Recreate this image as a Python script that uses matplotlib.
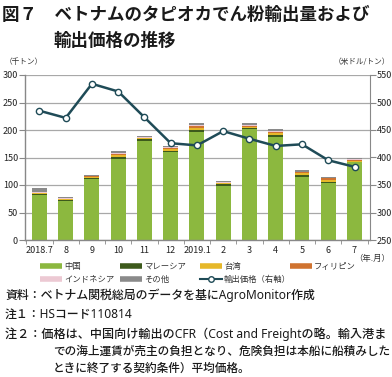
import matplotlib
matplotlib.use("Agg")
import matplotlib.pyplot as plt
from matplotlib.lines import Line2D
import numpy as np

plt.rcParams['font.family'] = ['Noto Sans CJK JP', 'DejaVu Sans']

months = ["2018.7", "8", "9", "10", "11", "12", "2019.1", "2", "3", "4", "5", "6", "7"]
china = [82, 71, 111, 148, 180, 160, 196, 99, 201, 188, 115, 104, 141]
malaysia = [2, 1, 1, 3, 3, 2, 4, 2, 2, 3, 3, 2, 1]
taiwan = [1.5, 2, 3, 3, 2, 3, 4, 2, 3, 4, 4, 4, 2]
philippines = [0.5, 0.5, 1, 3, 1, 2, 4, 1.5, 2, 2, 1, 2, 1]
indonesia = [1, 1.5, 0.5, 1, 2, 2, 2, 1, 2, 2, 1, 1, 2]
other = [7, 3, 1.5, 3, 2, 2, 2, 1.5, 2, 2, 3, 1, 2]
price = [485, 472, 534, 520, 473, 426, 422, 448, 434, 421, 424, 395, 383]

series = [("中国", china, "#8cb83f"),
          ("マレーシア", malaysia, "#3d5a1c"),
          ("台湾", taiwan, "#e6b82a"),
          ("フィリピン", philippines, "#d07330"),
          ("インドネシア", indonesia, "#ecc9d3"),
          ("その他", other, "#8a8a8a")]
line_color = "#1f4b57"
price_label = "輸出価格（右軸）"

W, H = 392, 377
fig = plt.figure(figsize=(3.92, 3.77), dpi=100)
ax = fig.add_axes([25/W, 1-240/H, 345/W, 165/H])

x = np.arange(len(months))
bottom = np.zeros(len(months))
for name, vals, c in series:
    ax.bar(x, vals, width=0.57, bottom=bottom, color=c, zorder=2)
    bottom += np.array(vals)

ax.set_ylim(0, 300)
ax.set_yticks(np.arange(0, 301, 50))
ax.set_xlim(-0.55, 12.59)
ax.set_xticks(x)
ax.set_xticklabels(months)
ax.set_xticks(np.arange(-0.5, 12.6, 1), minor=True)
ax.tick_params(axis='x', which='major', length=0, labelsize=6.5, pad=4, colors='#222222')
ax.tick_params(axis='x', which='minor', length=3, color='#888888', direction='out')
ax.tick_params(axis='y', length=4, labelsize=6.5, color='#888888', labelcolor='#222222', pad=1)
ax.grid(axis='y', color='#a8a8a8', lw=0.9, zorder=0)
for s in ['top', 'right']:
    ax.spines[s].set_visible(False)
for s in ['left', 'bottom']:
    ax.spines[s].set_color('#888888')
    ax.spines[s].set_linewidth(1.0)

ax2 = ax.twinx()
ax2.plot(x, price, color=line_color, lw=1.8, marker='o', ms=4.5,
         mfc='white', mec=line_color, mew=1.0, zorder=5)
ax2.set_ylim(250, 550)
ax2.set_yticks(np.arange(250, 551, 50))
ax2.tick_params(axis='y', length=4, labelsize=6.5, color='#888888', labelcolor='#222222', pad=1)
for s in ['top', 'left', 'bottom']:
    ax2.spines[s].set_visible(False)
ax2.spines['right'].set_color('#888888')

# Title
fig.text(2/W, 1-15/H, "図７　ベトナムのタピオカでん粉輸出量および", fontsize=12.6,
         fontweight='bold', va='center', ha='left', color='#1a1a1a')
fig.text(53/W, 1-41/H, "輸出価格の推移", fontsize=12.6,
         fontweight='bold', va='center', ha='left', color='#1a1a1a')
fig.text(5/W, 1-62/H, "（千トン）", fontsize=5.5, va='center', ha='left', color='#333333')
fig.text(390/W, 1-62/H, "（米ドル/トン）", fontsize=5.5, va='center', ha='right', color='#333333')
fig.text(390/W, 1-258/H, "（年.月）", fontsize=6, va='center', ha='right', color='#333333')

# Legend (manual placement)
leg_pos = {
    "中国": (40, 266), "マレーシア": (120, 266), "台湾": (200, 266), "フィリピン": (290, 266),
    "インドネシア": (40, 279), "その他": (120, 279),
}
for name, vals, c in series:
    lx, ly = leg_pos[name]
    fig.add_artist(Line2D([lx/W, (lx+22)/W], [1-ly/H, 1-ly/H], color=c, lw=4,
                          transform=fig.transFigure, solid_capstyle='butt'))
    fig.text((lx+24)/W, 1-ly/H, name, fontsize=6, va='center', ha='left', color='#333333')
lx, ly = 200, 279
fig.add_artist(Line2D([lx/W, (lx+22)/W], [1-ly/H, 1-ly/H], color=line_color, lw=1.5,
                      transform=fig.transFigure))
fig.add_artist(Line2D([(lx+11)/W], [1-ly/H], color=line_color, marker='o', ms=4,
                      mfc='white', mec=line_color, transform=fig.transFigure))
fig.text((lx+24)/W, 1-ly/H, price_label, fontsize=6, va='center', ha='left', color='#333333')

notes = [
    (5, 295, "資料：ベトナム関税総局のデータを基にAgroMonitor作成", 8.6),
    (5, 314, "注１：HSコード110814", 8.6),
    (5, 334, "注２：価格は、中国向け輸出のCFR（Cost and Freightの略。輸入港ま", 8.7),
    (53, 352, "での海上運賃が売主の負担となり、危険負担は本船に船積みした", 8.4),
    (53, 369, "ときに終了する契約条件）平均価格。", 8.4),
]
for xp, yp, t, fs in notes:
    fig.text(xp/W, 1-yp/H, t, fontsize=fs, va='center', ha='left',
             color='#1a1a1a', fontweight='medium',
             family=['Noto Sans', 'Noto Sans CJK JP', 'DejaVu Sans'])

fig.savefig("out.png", dpi=100)
